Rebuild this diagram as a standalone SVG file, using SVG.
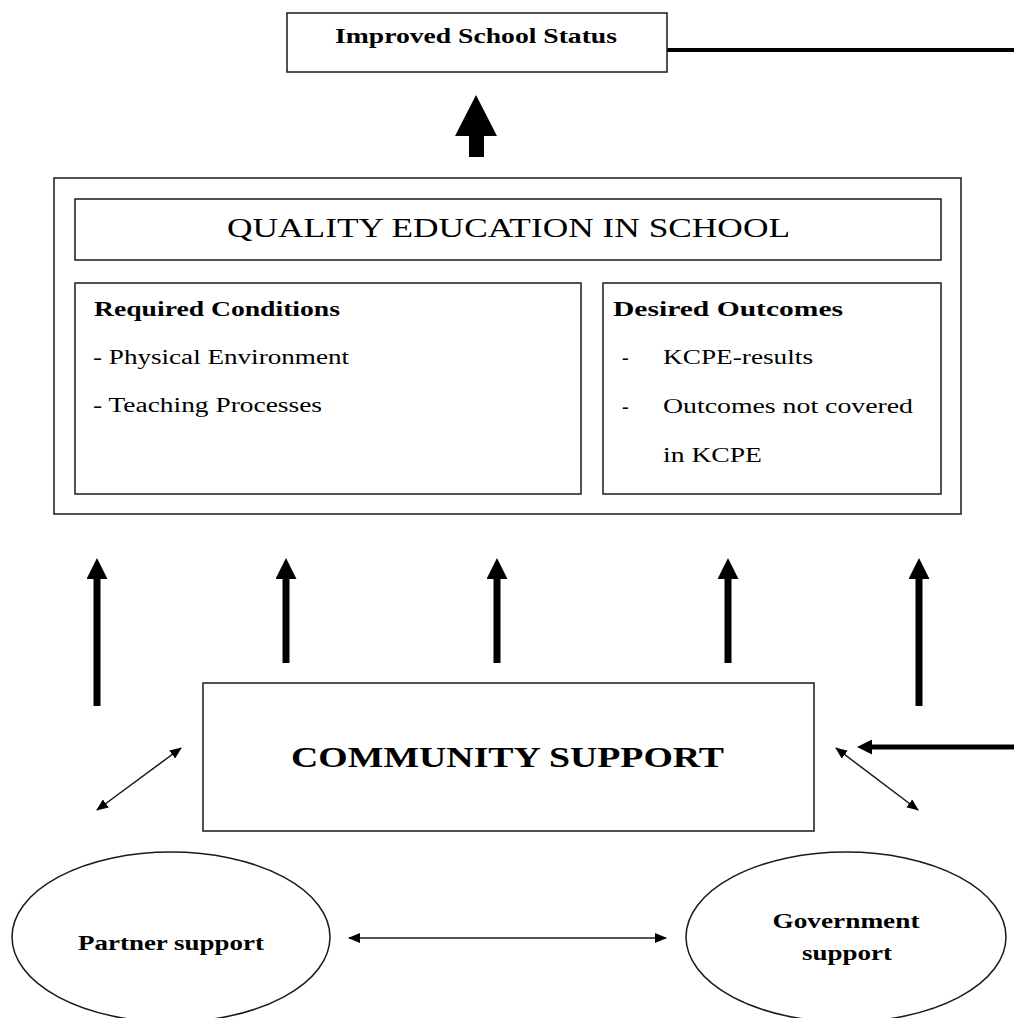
<svg xmlns="http://www.w3.org/2000/svg" width="1014" height="1018" viewBox="0 0 1014 1018">
  <style>
    .box { fill: #ffffff; stroke: #1a1a1a; stroke-width: 1.5; }
    .serif { font-family: "Liberation Serif", "DejaVu Serif", serif; fill: #000000; }
    .body { font-size: 20px; }
    .head { font-size: 20px; font-weight: bold; }
    .oval { font-size: 20px; font-weight: bold; text-anchor: middle; }
    .thin { stroke: #1a1a1a; stroke-width: 1.5; fill: none; }
    .up { stroke: #000000; stroke-width: 7; marker-end: url(#headUp); }
  </style>
  <defs>
    <!-- head for the thick upward arrows; base sits at the line end -->
    <marker id="headUp" viewBox="0 0 21 21" refX="0" refY="10.5" markerWidth="21" markerHeight="21" markerUnits="userSpaceOnUse" orient="auto">
      <path d="M0,0 L21,10.5 L0,21 z" fill="#000000"/>
    </marker>
    <marker id="headIn" viewBox="0 0 15 15" refX="0" refY="7.5" markerWidth="15" markerHeight="15" markerUnits="userSpaceOnUse" orient="auto">
      <path d="M0,0 L15,7.5 L0,15 z" fill="#000000"/>
    </marker>
    <!-- small head for the two-way links -->
    <marker id="tipSmall" viewBox="0 0 12 10" refX="11" refY="5" markerWidth="12" markerHeight="10" markerUnits="userSpaceOnUse" orient="auto-start-reverse">
      <path d="M0,0 L12,5 L0,10 z" fill="#000000"/>
    </marker>
  </defs>
  <rect width="1014" height="1018" fill="#ffffff"/>

  <g id="connectors">
    <!-- link from status box running off to the right -->
    <line x1="667" y1="50" x2="1014" y2="50" stroke="#000" stroke-width="4"/>
    <!-- block arrow up to status -->
    <path d="M476,95 L497,136 L484,136 L484,157 L469,157 L469,136 L455,136 z" fill="#000"/>
    <!-- upward arrows into quality education -->
    <line class="up" x1="97" y1="706" x2="97" y2="579"/>
    <line class="up" x1="286" y1="663" x2="286" y2="579"/>
    <line class="up" x1="497" y1="663" x2="497" y2="579"/>
    <line class="up" x1="728" y1="663" x2="728" y2="579"/>
    <line class="up" x1="919" y1="706" x2="919" y2="579"/>
    <!-- incoming arrow from the right -->
    <line x1="1014" y1="747" x2="872" y2="747" stroke="#000" stroke-width="5" marker-end="url(#headIn)"/>
    <!-- two-way links -->
    <line class="thin" x1="97" y1="810" x2="181" y2="748" marker-start="url(#tipSmall)" marker-end="url(#tipSmall)"/>
    <line class="thin" x1="836" y1="748" x2="918" y2="810" marker-start="url(#tipSmall)" marker-end="url(#tipSmall)"/>
    <line class="thin" x1="349" y1="938" x2="666" y2="938" marker-start="url(#tipSmall)" marker-end="url(#tipSmall)"/>
  </g>

  <g id="status">
    <rect class="box" x="287" y="13" width="380" height="59"/>
    <text class="serif" x="335" y="43" font-size="21" font-weight="bold" textLength="282" lengthAdjust="spacingAndGlyphs">Improved School Status</text>
  </g>

  <g id="quality">
    <rect class="box" x="54" y="178" width="907" height="336"/>
    <rect class="box" x="75" y="199" width="866" height="61"/>
    <text class="serif" x="227" y="237" font-size="27" textLength="563" lengthAdjust="spacingAndGlyphs">QUALITY EDUCATION IN SCHOOL</text>
  </g>

  <g id="conditions">
    <rect class="box" x="75" y="283" width="506" height="211"/>
    <text class="serif head" x="94" y="316" textLength="246" lengthAdjust="spacingAndGlyphs">Required Conditions</text>
    <text class="serif body" x="93" y="364" textLength="256" lengthAdjust="spacingAndGlyphs">- Physical Environment</text>
    <text class="serif body" x="93" y="412" textLength="229" lengthAdjust="spacingAndGlyphs">- Teaching Processes</text>
  </g>

  <g id="outcomes">
    <rect class="box" x="603" y="283" width="338" height="211"/>
    <text class="serif head" x="613" y="316" textLength="230" lengthAdjust="spacingAndGlyphs">Desired Outcomes</text>
    <text class="serif body" x="622" y="364">-</text>
    <text class="serif body" x="663" y="364" textLength="150" lengthAdjust="spacingAndGlyphs">KCPE-results</text>
    <text class="serif body" x="622" y="413">-</text>
    <text class="serif body" x="663" y="413" textLength="250" lengthAdjust="spacingAndGlyphs">Outcomes not covered</text>
    <text class="serif body" x="663" y="462" textLength="99" lengthAdjust="spacingAndGlyphs">in KCPE</text>
  </g>

  <g id="community">
    <rect class="box" x="203" y="683" width="611" height="148"/>
    <text class="serif" x="291" y="767" font-size="30" font-weight="bold" textLength="433" lengthAdjust="spacingAndGlyphs">COMMUNITY SUPPORT</text>
  </g>

  <g id="partner">
    <ellipse class="box" cx="171" cy="937" rx="159" ry="85"/>
    <text class="serif oval" x="171" y="950" textLength="186" lengthAdjust="spacingAndGlyphs">Partner support</text>
  </g>

  <g id="government">
    <ellipse class="box" cx="846" cy="937" rx="160" ry="85"/>
    <text class="serif oval" x="846" y="928" textLength="147" lengthAdjust="spacingAndGlyphs">Government</text>
    <text class="serif oval" x="847" y="960" textLength="90" lengthAdjust="spacingAndGlyphs">support</text>
  </g>
</svg>
